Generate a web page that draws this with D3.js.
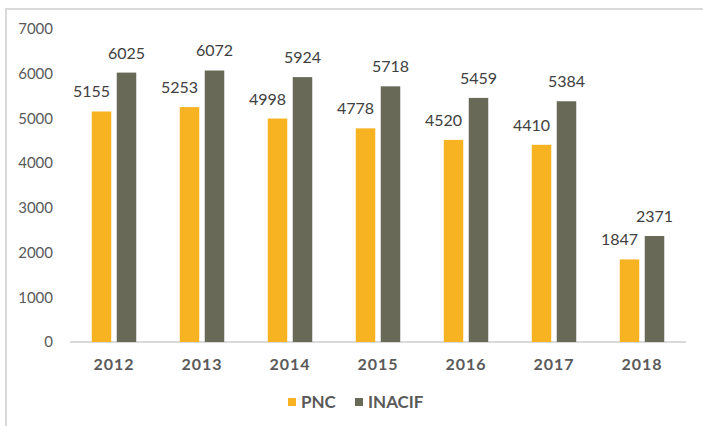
<!DOCTYPE html>
<html>
<head>
<meta charset="utf-8">
<script src="https://cdn.jsdelivr.net/npm/d3@7"></script>
<style>
  body { margin: 0; background: #fff; }
  text { font-family: "Lato", "Open Sans", sans-serif; }
</style>
</head>
<body>
<div id="chart"></div>
<script>
const years = ['2012', '2013', '2014', '2015', '2016', '2017', '2018']
const pncValues = [5155, 5253, 4998, 4778, 4520, 4410, 1847]
const inacifValues = [6025, 6072, 5924, 5718, 5459, 5384, 2371]
const yTicks = [0, 1000, 2000, 3000, 4000, 5000, 6000, 7000]
const seriesNames = ['PNC', 'INACIF']
const seriesColors = ['#F7B322', '#686A57']

const width = 703
const height = 426

const svg = d3.select('#chart')
  .append('svg')
  .attr('width', width)
  .attr('height', height)

// 外框（只看得到上边和左边）
svg.append('rect')
  .attr('x', 6)
  .attr('y', 9)
  .attr('width', 720)
  .attr('height', 440)
  .attr('fill', 'none')
  .attr('stroke', '#d9d9d9')
  .attr('stroke-width', 2)

const x = d3.scaleBand()
  .domain(years)
  .range([70, 686])

const y = d3.scaleLinear()
  .domain([0, 7000])
  .range([342, 29])

// y轴标签
svg.append('g')
  .selectAll('text')
  .data(yTicks)
  .enter().append('text')
  .attr('x', 53)
  .attr('y', d => y(d))
  .attr('dy', '0.35em')
  .attr('text-anchor', 'end')
  .attr('font-size', '15px')
  .attr('fill', '#595959')
  .text(d => d)

// x轴线
svg.append('line')
  .attr('x1', x.range()[0])
  .attr('x2', x.range()[1])
  .attr('y1', y(0))
  .attr('y2', y(0))
  .attr('stroke', '#d9d9d9')
  .attr('stroke-width', 2)

// x轴标签
svg.append('g')
  .selectAll('text')
  .data(years)
  .enter().append('text')
  .attr('x', d => x(d) + x.bandwidth() / 2)
  .attr('y', 370)
  .attr('text-anchor', 'middle')
  .attr('font-size', '16px')
  .attr('font-weight', 'bold')
  .attr('letter-spacing', '1px')
  .attr('fill', '#595959')
  .text(d => d)

const barWidth = 19.5
const barGap = 5.5

const rows = years.map((yr, i) => ({ year: yr, values: [pncValues[i], inacifValues[i]] }))

rows.forEach(row => {
  const cx = x(row.year) + x.bandwidth() / 2
  row.values.forEach((v, s) => {
    const bx = s === 0 ? cx - barGap / 2 - barWidth : cx + barGap / 2
    svg.append('rect')
      .attr('x', bx)
      .attr('y', y(v))
      .attr('width', barWidth)
      .attr('height', y(0) - y(v))
      .attr('fill', seriesColors[s])

    // 数值标签，PNC 标签向左偏移以避免重叠
    const lx = s === 0 ? bx + barWidth / 2 - 10 : bx + barWidth / 2
    svg.append('text')
      .attr('x', lx)
      .attr('y', y(v) - 14)
      .attr('text-anchor', 'middle')
      .attr('font-size', '16px')
      .attr('fill', '#404040')
      .text(v)
  })
})

// 图例
const legend = svg.append('g')
const legendX = [288, 355]
seriesNames.forEach((name, i) => {
  legend.append('rect')
    .attr('x', legendX[i])
    .attr('y', 398)
    .attr('width', 8)
    .attr('height', 8)
    .attr('fill', seriesColors[i])
  legend.append('text')
    .attr('x', legendX[i] + 13)
    .attr('y', 402)
    .attr('dy', '0.35em')
    .attr('font-size', '17px')
    .attr('font-weight', 'bold')
    .attr('fill', '#595959')
    .text(name)
})
</script>
</body>
</html>
